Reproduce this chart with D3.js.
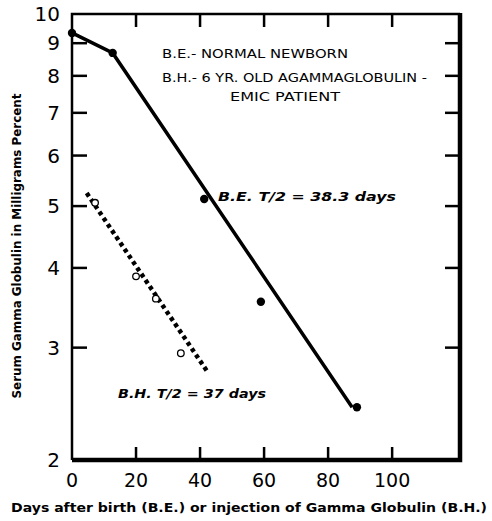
<!DOCTYPE html>
<html><head><meta charset="utf-8">
<script src="https://cdn.jsdelivr.net/npm/d3@7"></script>
<style>body{margin:0;background:#fff}svg{display:block}</style>
</head><body>
<script>
// Data
const beDays = [0, 12.7, 41.3, 59, 89];
const beValues = [9.34, 8.69, 5.13, 3.54, 2.42];
const beLineDays = [0, 12.7, 87.5];
const beLineValues = [9.34, 8.69, 2.42];
const bhDays = [7.2, 20, 26.2, 34];
const bhValues = [5.06, 3.88, 3.58, 2.94];
const bhLineDays = [4.6, 42.1];
const bhLineValues = [5.24, 2.76];
const xTicks = [0, 20, 40, 60, 80, 100];
const yTicks = [2, 3, 4, 5, 6, 7, 8, 9, 10];

(function () {
const W = 492, H = 521;
const pL = 72, pR = 460, pT = 14, pB = 460;
const x = d3.scaleLinear().domain([0, 121.2]).range([pL, pR]);
const y = d3.scaleLog().domain([2, 10]).range([pB, pT]);

const svg = d3.select("body").append("svg").attr("width", W).attr("height", H);
const font = "'DejaVu Sans', sans-serif";

// Frame + inward ticks drawn as paths
const yInner = yTicks.slice(1, -1);
const xInner = xTicks.slice(1);
const g = svg.append("g").attr("fill", "none").attr("stroke", "#000");
g.append("path").attr("stroke-width", 2.5)
  .attr("d", `M${pL},${pB}V${pT}H${pR}`);
g.append("path").attr("stroke-width", 4.5)
  .attr("d", `M${pL},${pB}H${pR}V${pT - 1}`);
g.selectAll(".tl").data(yInner).join("path").attr("class", "tl").attr("stroke-width", 2.5)
  .attr("d", d => `M${pL},${y(d)}h15`);
g.selectAll(".tr").data(yInner).join("path").attr("class", "tr").attr("stroke-width", 2.5)
  .attr("d", d => `M${pR},${y(d)}h-15`);
g.selectAll(".tt").data(xInner).join("path").attr("class", "tt").attr("stroke-width", 2.5)
  .attr("d", d => `M${x(d)},${pT}v13`);
g.selectAll(".tb").data(xInner).join("path").attr("class", "tb").attr("stroke-width", 2.5)
  .attr("d", d => `M${x(d)},${pB}v-13`);

// Tick labels
svg.append("g").selectAll("text").data(yTicks).join("text")
  .attr("x", 60).attr("y", d => y(d)).attr("dy", "0.36em")
  .attr("text-anchor", "end").attr("font-family", font).attr("font-size", 20)
  .text(d => d);
svg.append("g").selectAll("text").data(xTicks).join("text")
  .attr("x", d => x(d)).attr("y", 487)
  .attr("text-anchor", "middle").attr("font-family", font).attr("font-size", 19)
  .text(d => d);

// Axis titles
svg.append("text").attr("transform", "translate(21,246) rotate(-90)")
  .attr("text-anchor", "middle").attr("font-family", font).attr("font-weight", "bold")
  .attr("font-size", 12.5).attr("textLength", 305).attr("lengthAdjust", "spacingAndGlyphs")
  .text("Serum Gamma Globulin in Milligrams Percent");
svg.append("text").attr("x", 249).attr("y", 512)
  .attr("text-anchor", "middle").attr("font-family", font).attr("font-weight", "bold")
  .attr("font-size", 13).attr("textLength", 476).attr("lengthAdjust", "spacingAndGlyphs")
  .text("Days after birth (B.E.) or injection of Gamma Globulin (B.H.)");

// Lines
const line = d3.line().x(d => x(d[0])).y(d => y(d[1]));
svg.append("path").datum(d3.zip(beLineDays, beLineValues)).attr("d", line)
  .attr("fill", "none").attr("stroke", "#000").attr("stroke-width", 3.5);
svg.append("path").datum(d3.zip(bhLineDays, bhLineValues)).attr("d", line)
  .attr("fill", "none").attr("stroke", "#000").attr("stroke-width", 4.5)
  .attr("stroke-dasharray", "4 3.5");

// Points
svg.append("g").selectAll("circle").data(d3.zip(beDays, beValues)).join("circle")
  .attr("cx", d => x(d[0])).attr("cy", d => y(d[1])).attr("r", 4.2).attr("fill", "#000");
svg.append("g").selectAll("circle").data(d3.zip(bhDays, bhValues)).join("circle")
  .attr("cx", d => x(d[0])).attr("cy", d => y(d[1])).attr("r", 3.3)
  .attr("fill", "#fff").attr("stroke", "#000").attr("stroke-width", 1.3);

// Annotations
const ann = (tx, ty, str, len, opts = {}) => {
  return svg.append("text").attr("x", tx).attr("y", ty)
    .attr("font-family", font).attr("font-size", opts.size || 13)
    .attr("font-weight", opts.weight || "normal")
    .attr("font-style", opts.style || "normal")
    .attr("textLength", len).attr("lengthAdjust", "spacingAndGlyphs").text(str);
};
ann(162, 58, "B.E.- NORMAL NEWBORN", 186);
ann(162, 82, "B.H.- 6 YR. OLD AGAMMAGLOBULIN -", 265);
ann(230, 101, "EMIC PATIENT", 110);
ann(218, 201, "B.E.  T/2  =  38.3  days", 178, {style: "italic", weight: "bold", size: 13});
ann(118, 398, "B.H.  T/2 =  37  days", 148, {style: "italic", weight: "bold", size: 13});
})();
</script>
</body></html>
